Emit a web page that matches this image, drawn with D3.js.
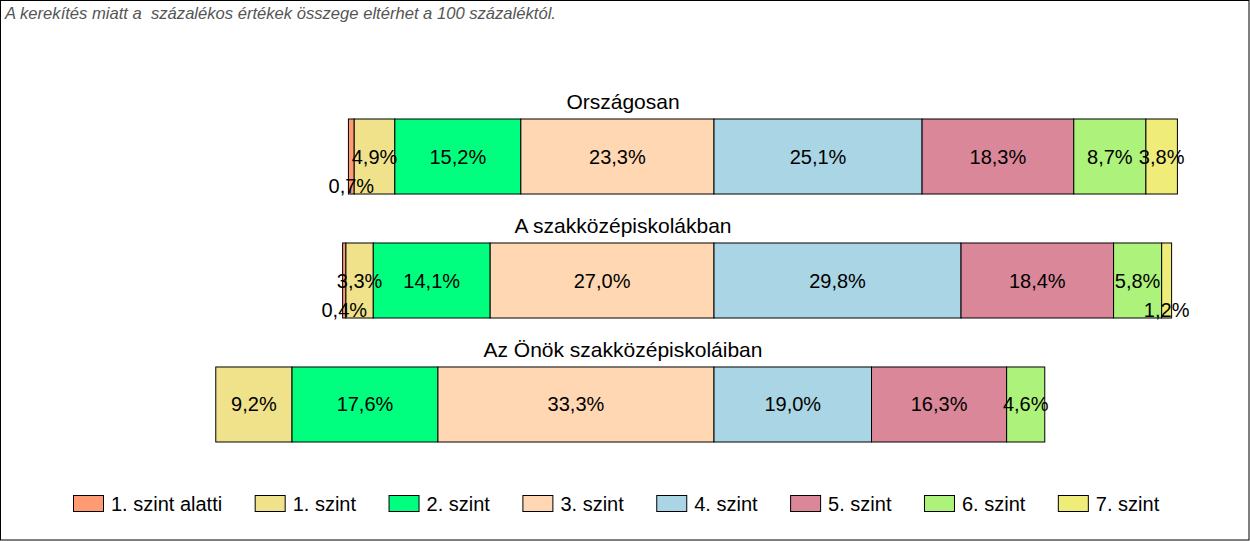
<!DOCTYPE html>
<html>
<head>
<meta charset="utf-8">
<script src="https://cdn.jsdelivr.net/npm/d3@7"></script>
<style>
  body { margin: 0; background: #fff; }
  svg { display: block; font-family: "Liberation Sans", Arial, sans-serif; }
</style>
</head>
<body>
<div id="chart"></div>
<script>
// data
var categories = ["Országosan", "A szakközépiskolákban", "Az Önök szakközépiskoláiban"];
var levels = ["1. szint alatti", "1. szint", "2. szint", "3. szint", "4. szint", "5. szint", "6. szint", "7. szint"];
var colors = ["#FF9B72", "#EFE28A", "#00FF7F", "#FFD7B2", "#A9D5E4", "#D98799", "#ADF27B", "#EFEC7A"];
var orszagos = [0.7, 4.9, 15.2, 23.3, 25.1, 18.3, 8.7, 3.8];
var szakkozep = [0.4, 3.3, 14.1, 27.0, 29.8, 18.4, 5.8, 1.2];
var onok = [0, 9.2, 17.6, 33.3, 19.0, 16.3, 4.6, 0];
var series = [orszagos, szakkozep, onok];

var width = 1250;
var height = 541;

var svg = d3.select("#chart")
  .append("svg")
  .attr("width", width)
  .attr("height", height);

// outer frame
svg.append("rect")
  .attr("x", 0.5).attr("y", 0.5)
  .attr("width", width - 1.5).attr("height", height - 1.5)
  .attr("fill", "white")
  .attr("stroke", "black");

svg.append("text")
  .attr("x", 5)
  .attr("y", 19)
  .attr("fill", "#555")
  .style("font-style", "italic")
  .style("font-size", "16.6px")
  .style("white-space", "pre")
  .text("A kerekítés miatt a  százalékos értékek összege eltérhet a 100 százaléktól.");

// 0 = border between 3. and 4. szint
var x = d3.scaleLinear()
  .domain([-60, 60])
  .range([714 - 60 * 8.29, 714 + 60 * 8.29]);

var y = d3.scaleBand()
  .domain(categories)
  .range([119, 442])
  .paddingInner(0.395)
  .paddingOuter(0);

var rows = categories.map(function(c, i) {
  var vals = series[i];
  var start = -d3.sum(vals.slice(0, 4));
  var segs = [];
  vals.forEach(function(v, j) {
    segs.push({ level: j, value: v, x0: start, x1: start + v, row: c });
    start += v;
  });
  return { name: c, segs: segs.filter(function(s) { return s.value > 0; }) };
});

var row = svg.selectAll("g.row")
  .data(rows)
  .enter()
  .append("g")
  .attr("class", "row");

row.append("text")
  .attr("x", 623)
  .attr("y", function(d) { return y(d.name) - 10; })
  .attr("text-anchor", "middle")
  .style("font-size", "21px")
  .text(function(d) { return d.name; });

row.selectAll("rect")
  .data(function(d) { return d.segs; })
  .enter()
  .append("rect")
  .attr("x", function(d) { return x(d.x0); })
  .attr("y", function(d) { return y(d.row); })
  .attr("width", function(d) { return x(d.x1) - x(d.x0); })
  .attr("height", y.bandwidth())
  .attr("fill", function(d) { return colors[d.level]; })
  .attr("stroke", "black")
  .attr("stroke-width", 1);

row.selectAll("text.lbl")
  .data(function(d) { return d.segs; })
  .enter()
  .append("text")
  .attr("class", "lbl")
  .attr("x", function(d) { return (x(d.x0) + x(d.x1)) / 2; })
  .attr("y", function(d) {
    var mid = y(d.row) + y.bandwidth() / 2;
    return d.value < 1.5 ? mid + 29 : mid;
  })
  .attr("dy", "0.35em")
  .attr("text-anchor", "middle")
  .style("font-size", "20px")
  .text(function(d) { return d3.format(".1f")(d.value).replace(".", ",") + "%"; });

// legend
var legend = svg.append("g");
var lx = 73;
levels.forEach(function(l, i) {
  var g = legend.append("g").attr("transform", "translate(" + lx + ",495)");
  g.append("rect")
    .attr("x", 0.5).attr("y", 0.5)
    .attr("width", 30).attr("height", 16)
    .attr("fill", colors[i])
    .attr("stroke", "black");
  var t = g.append("text")
    .attr("x", 38)
    .attr("y", 8.5)
    .attr("dy", "0.35em")
    .style("font-size", "20px")
    .text(l);
  lx += 38 + t.node().getComputedTextLength() + 32.5;
});
</script>
</body>
</html>
